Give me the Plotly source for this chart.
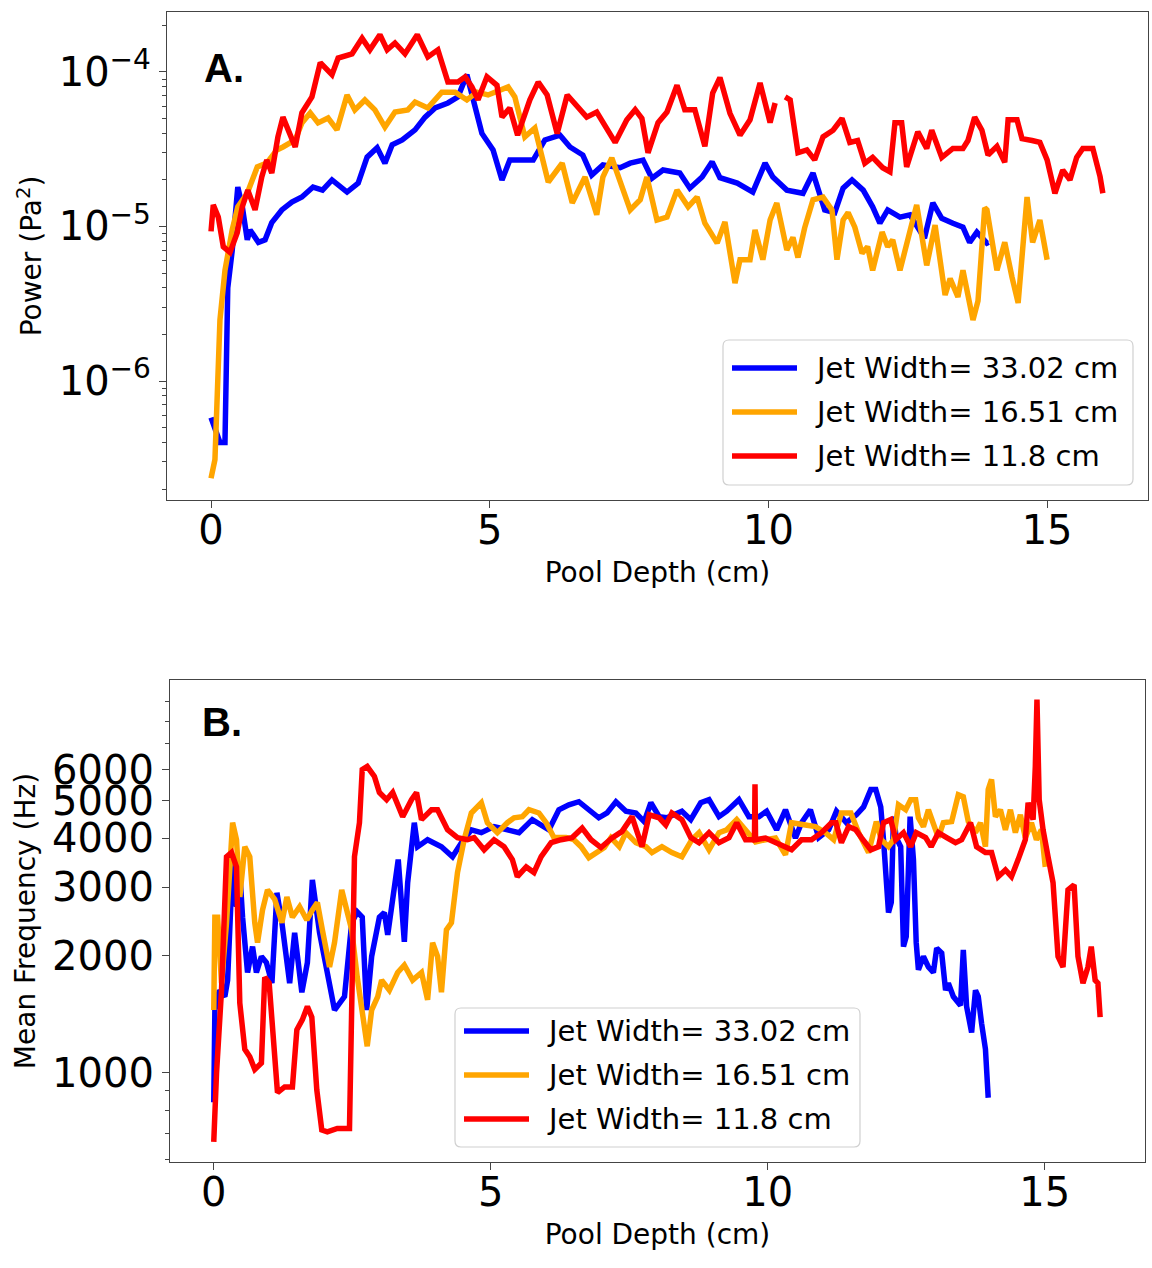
import plotly.graph_objects as go

# ---------------- Panel A: power vs pool depth (power in units of 1e-6 Pa^2) ----------------
POWER_UNIT = 1e-6

a_blue_depth = [0.0, 0.16, 0.25, 0.30, 0.38, 0.48, 0.56, 0.65, 0.70, 0.85, 0.97, 1.09, 1.27, 1.45, 1.63,
                1.83, 2.00, 2.17, 2.44, 2.64, 2.80, 2.98, 3.12, 3.25, 3.43, 3.66, 3.84, 4.02, 4.25, 4.43,
                4.59, 4.70, 4.86, 5.06, 5.22, 5.36, 5.50, 5.78, 5.99, 6.26, 6.44, 6.67, 6.83, 7.03, 7.34,
                7.52, 7.75, 7.91, 8.11, 8.41, 8.59, 8.81, 8.99, 9.13, 9.44, 9.72, 9.94, 10.08, 10.33,
                10.62, 10.80, 11.01, 11.19, 11.34, 11.50, 11.70, 11.87, 12.00, 12.14, 12.36, 12.54,
                12.72, 12.80, 12.95, 13.11, 13.31, 13.49, 13.61, 13.74, 13.92, 13.95]
a_blue_power = [0.58, 0.40, 0.40, 4.0, 7.0, 18.0, 13.5, 8.2, 9.5, 7.9, 8.2, 10.6, 12.8, 14.4, 15.5,
                18.0, 17.2, 20.0, 16.7, 19.1, 28.1, 32.3, 25.7, 33.8, 36.3, 42.2, 51.0, 58.5, 63, 69,
                96, 69, 40, 31.3, 20, 26.9, 27, 26.9, 36.3, 39, 32.7, 29, 21.5, 25, 24,
                25.7, 26.9, 20.5, 23.2, 22.2, 17.7, 20.9, 26.2, 20.7, 19.1, 16.7, 25.7, 20.9, 17.2,
                16.4, 22.2, 12.8, 12.3, 17.7, 20, 17.2, 13.4, 10.5, 12.8, 11.5, 11.9,
                9.1, 8.4, 14.2, 11.3, 10.5, 9.9, 7.9, 9.2, 7.8, 7.9]

a_orange_depth = [0.0, 0.07, 0.16, 0.25, 0.38, 0.48, 0.65, 0.83, 1.0, 1.18, 1.29, 1.51, 1.63, 1.78, 1.92,
                  2.10, 2.26, 2.44, 2.58, 2.76, 2.94, 3.12, 3.30, 3.53, 3.66, 3.89, 4.14, 4.38, 4.59, 4.77,
                  4.97, 5.33, 5.45, 5.63, 5.81, 5.99, 6.05, 6.21, 6.30, 6.48, 6.62, 6.71, 6.92, 7.03, 7.19,
                  7.34, 7.52, 7.70, 7.82, 8.00, 8.18, 8.36, 8.56, 8.72, 8.86, 9.08, 9.22, 9.40, 9.49, 9.67,
                  9.76, 9.90, 10.03, 10.15, 10.33, 10.44, 10.53, 10.65, 10.80, 10.98, 11.14, 11.23, 11.34,
                  11.43, 11.55, 11.68, 11.78, 11.87, 12.04, 12.14, 12.23, 12.36, 12.54, 12.66, 12.84,
                  12.99, 13.17, 13.26, 13.40, 13.49, 13.67, 13.76, 13.88, 13.92, 14.10, 14.24, 14.37,
                  14.48, 14.64, 14.69, 14.74, 14.87, 15.00]
a_orange_power = [0.235, 0.31, 2.48, 5.2, 9.5, 13.4, 16.4, 24.3, 25.7, 31.3, 32.7, 36.3, 46.8, 54.4, 46.8,
                  50.3, 42.2, 71, 56.8, 65.9, 56.8, 44, 55, 56.8, 63.8, 58.5, 74, 74, 65.9, 74,
                  71, 80, 69, 38, 43.4, 24.3, 19.4, 23.2, 25.7, 14.2, 18, 20.9, 11.9, 20.9, 27.8,
                  20, 12.8, 14.9, 20.9, 11, 11.5, 17.2, 13.4, 15.5, 10.5, 7.8, 10.7, 4.3, 6.1, 6.1,
                  9.5, 6.1, 11, 14.2, 7.05, 8.5, 6.3, 9.8, 14.9, 15.5, 12.8, 6.1, 11,
                  12.3, 9.9, 6.7, 7.4, 5.2, 9.2, 7.4, 8.2, 5.2, 9.1, 13.8, 5.6,
                  10.2, 3.6, 4.6, 3.5, 5.2, 2.48, 3.3, 13.2, 12.8, 5.2, 7.9, 4.7,
                  3.2, 15.5, 11.5, 7.9, 11, 6.1]

a_red_depth = [0.0, 0.04, 0.13, 0.22, 0.34, 0.47, 0.56, 0.66, 0.79, 0.91, 1.0, 1.09, 1.2, 1.29, 1.51,
               1.63, 1.81, 1.96, 2.17, 2.28, 2.53, 2.71, 2.85, 3.03, 3.16, 3.3, 3.48, 3.7, 3.89, 4.07,
               4.25, 4.43, 4.56, 4.68, 4.79, 4.95, 5.13, 5.22, 5.36, 5.5, 5.72, 5.87, 6.03, 6.21, 6.39,
               6.57, 6.74, 6.92, 7.1, 7.25, 7.46, 7.61, 7.73, 7.84, 8.02, 8.18, 8.36, 8.5, 8.68, 8.86,
               9.0, 9.13, 9.31, 9.49, 9.67, 9.85, 10.03, 10.12, 10.2, 10.3, 10.39, 10.53, 10.69, 10.83,
               10.98, 11.16, 11.32, 11.46, 11.6, 11.73, 11.87, 12.05, 12.18, 12.27, 12.39, 12.48, 12.68,
               12.84, 12.93, 13.11, 13.31, 13.49, 13.58, 13.7, 13.83, 13.94, 14.1, 14.24, 14.3, 14.46,
               14.55, 14.73, 14.87, 15.0, 15.14, 15.28, 15.41, 15.53, 15.64, 15.82, 15.95, 16.0]
a_red_power = [9.3, 13.8, 11.5, 7.4, 6.8, 9.1, 13.4, 17.2, 12.8, 20.9, 26.9, 22.2, 38, 51, 32.7,
               54.4, 69, 115, 96, 123, 131, 165, 139, 174, 139, 154, 131, 174, 125, 139,
               86, 86, 93, 80, 66, 93, 82, 51, 58.5, 39, 66, 86, 71, 40, 71,
               59, 51, 55, 42.2, 35, 49, 57, 50, 30, 47, 55, 82, 57, 57, 33,
               73, 92, 54, 39, 49, 85, 47, 63, None, 69, 66, 30, 31.3, 27,
               38, 42, 50, 35, 36, 25.7, 28, 24, 22.6, 47, 47, 24.3, 41,
               32, 42, 28, 32, 32, 36, 51, 42, 29, 33, 26, 49, 49,
               37, 36, 35, 27, 16.4, 23.2, 20, 28, 32, 32, 21, 16.4]

# ---------------- Panel B: mean frequency (Hz) vs pool depth ----------------
b_blue_depth = [0.0, 0.02, 0.1, 0.2, 0.25, 0.34, 0.41, 0.47, 0.52, 0.61, 0.7, 0.77, 0.86, 0.95, 1.05,
                1.14, 1.23, 1.32, 1.37, 1.46, 1.59, 1.69, 1.78, 1.91, 2.04, 2.18, 2.36, 2.49, 2.59, 2.68,
                2.76, 2.85, 2.99, 3.08, 3.14, 3.26, 3.33, 3.44, 3.5, 3.62, 3.68, 3.86, 4.11, 4.31, 4.47,
                4.65, 4.83, 5.06, 5.37, 5.51, 5.75, 6.05, 6.23, 6.41, 6.59, 6.77, 6.95, 7.1, 7.26, 7.44,
                7.62, 7.77, 7.89, 8.04, 8.18, 8.45, 8.61, 8.79, 8.94, 9.12, 9.26, 9.48, 9.66, 9.84, 9.98,
                10.16, 10.32, 10.5, 10.61, 10.77, 10.92, 11.1, 11.24, 11.42, 11.6, 11.73, 11.86, 11.95,
                12.04, 12.09, 12.13, 12.18, 12.23, 12.27, 12.32, 12.4, 12.45, 12.5, 12.57, 12.63, 12.68,
                12.72, 12.81, 12.9, 12.99, 13.05, 13.14, 13.21, 13.26, 13.35, 13.48, 13.53, 13.59, 13.68,
                13.75, 13.8, 13.86, 13.93, 13.98]
b_blue_freq = [840, 1450, 1630, 1570, 1730, 3460, 2670, 3270, 2510, 1810, 2110, 1810, 1990, 1920, 1700,
               2900, 2430, 1920, 1700, 2290, 1610, 1920, 3130, 2290, 1870, 1450, 1570, 2430, 2590, 2510,
               1450, 1990, 2510, 2580, 2260, 2950, 3530, 2170, 3080, 4390, 3810, 3970, 3810, 3590, 3900,
               4210, 4140, 4290, 4210, 4140, 4470, 4210, 4740, 4880, 4970, 4740, 4520, 4650, 4970, 4700,
               4650, 4420, 4940, 4550, 4520, 4700, 4470, 4940, 5030, 4550, 4700, 5030, 4550, 4550, 4700,
               4210, 4740, 4010, 4390, 4740, 4020, 4210, 4700, 4390, 4600, 4820, 5340, 5340,
               4820, 3970, 3080, 2580, 2740, 4550, 4020, 3810, 2110, 2240, 4550, 3530, 2160,
               1840, 1990, 1870, 1810, 2090, 2030, 1630, 1700, 1570, 1490, 2070, 1480, 1270,
               1630, 1570, 1340, 1150, 863]

b_orange_depth = [0.0, 0.02, 0.07, 0.14, 0.23, 0.29, 0.34, 0.41, 0.47, 0.56, 0.65, 0.74, 0.79, 0.88, 0.97,
                  1.1, 1.23, 1.32, 1.42, 1.55, 1.68, 1.78, 1.87, 1.96, 2.09, 2.18, 2.31, 2.4, 2.49, 2.59,
                  2.68, 2.77, 2.85, 2.96, 3.03, 3.17, 3.32, 3.44, 3.59, 3.75, 3.86, 3.95, 4.04, 4.11, 4.2,
                  4.29, 4.4, 4.52, 4.65, 4.83, 4.94, 5.12, 5.3, 5.42, 5.57, 5.69, 5.87, 6.0, 6.14, 6.36,
                  6.5, 6.63, 6.77, 6.92, 7.05, 7.17, 7.32, 7.44, 7.62, 7.8, 7.91, 8.09, 8.27, 8.45, 8.63,
                  8.76, 8.94, 9.12, 9.26, 9.44, 9.6, 9.78, 9.96, 10.14, 10.32, 10.43, 10.68, 10.86, 11.04,
                  11.19, 11.33, 11.5, 11.64, 11.82, 11.96, 12.05, 12.18, 12.27, 12.36, 12.49, 12.58, 12.67,
                  12.72, 12.81, 12.9, 12.99, 13.08, 13.17, 13.32, 13.44, 13.53, 13.62, 13.75, 13.84, 13.93,
                  13.98, 14.04, 14.11, 14.2, 14.29, 14.38, 14.47, 14.56, 14.65, 14.76, 14.85, 14.94, 15.01]
b_orange_freq = [1450, 2510, 2510, 1700, 2430, 3590, 4390, 3970, 2830, 3810, 3590, 2430, 2160, 2620, 2950,
                 2790, 2430, 2830, 2510, 2670, 2470, 2620, 2740, 2330, 1870, 2160, 2950, 2620, 2330, 1760,
                 1390, 1170, 1450, 1570, 1730, 1630, 1810, 1890, 1730, 1810, 1540, 2160, 1990, 1610, 2330,
                 2430, 3270, 3970, 4650, 4940, 4390, 4140, 4390, 4520, 4550, 4740, 4650, 4390, 4020, 4020,
                 3970, 3810, 3570, 3680, 3790, 4020, 3810, 4140, 3900, 3810, 3680, 3810, 3680, 3590, 3970,
                 4140, 3740, 4140, 4210, 4470, 4210, 3920, 3970, 4010, 3630, 4390, 4330, 4290, 4140,
                 3970, 4650, 4650, 4140, 3680, 4420, 3970, 3810, 3970, 4880, 4740, 5030, 5030,
                 4520, 4290, 4740, 4390, 4020, 4390, 4420, 5180, 5120, 4420, 4140, 4390, 3810,
                 5340, 5670, 4550, 4740, 4210, 4740, 4140, 4600, 4020, 4390, 3970, 4210, 3380]

b_red_depth = [0.0, 0.05, 0.14, 0.23, 0.32, 0.41, 0.47, 0.56, 0.65, 0.74, 0.86, 0.92, 1.0, 1.1, 1.15,
               1.28, 1.42, 1.5, 1.6, 1.69, 1.77, 1.86, 1.95, 2.05, 2.23, 2.45, 2.49, 2.54, 2.63, 2.68,
               2.77, 2.9, 2.99, 3.12, 3.23, 3.41, 3.57, 3.66, 3.75, 3.93, 4.04, 4.22, 4.4, 4.58, 4.7,
               4.88, 5.06, 5.24, 5.39, 5.48, 5.64, 5.78, 5.91, 6.09, 6.27, 6.47, 6.65, 6.81, 6.99, 7.19,
               7.37, 7.55, 7.73, 7.86, 8.04, 8.16, 8.27, 8.45, 8.61, 8.76, 8.94, 9.12, 9.3, 9.44, 9.6,
               9.76, 9.77, 9.78, 9.96, 10.14, 10.32, 10.43, 10.61, 10.79, 10.97, 11.15, 11.23, 11.33,
               11.46, 11.59, 11.69, 11.86, 12.0, 12.09, 12.22, 12.31, 12.45, 12.58, 12.68, 12.85, 12.95,
               13.08, 13.23, 13.39, 13.5, 13.66, 13.77, 13.93, 14.04, 14.16, 14.29, 14.4, 14.52, 14.65,
               14.7, 14.79, 14.83, 14.86, 14.9, 14.97, 15.06, 15.15, 15.24, 15.33, 15.42, 15.53, 15.6,
               15.69, 15.78, 15.84, 15.91, 15.96, 16.0]
b_red_freq = [665, 1000, 1630, 3590, 3680, 3380, 1510, 1150, 1100, 1020, 1060, 1760, 1700, 1060, 890,
              920, 920, 1290, 1370, 1480, 1390, 904, 713, 705, 720, 720, 1480, 3590, 4390, 6010,
              6120, 5770, 5250, 5030, 5250, 4550, 5030, 5250, 4470, 4740, 4740, 4210, 4020, 3970, 4020,
              3740, 3970, 3810, 3530, 3190, 3380, 3270, 3590, 3900, 3970, 4020, 4250, 3970, 3790, 4010,
              4170, 4550, 3810, 4600, 4520, 4330, 4650, 4470, 4020, 3900, 4140, 3900, 4020, 4390, 3970,
              3970, 5510, 3970, 4010, 3900, 3810, 3740, 3970, 3970, 4140, 4390, 4390, 3900,
              4290, 4210, 4020, 3740, 3810, 4390, 4470, 3970, 4140, 3810, 4140, 4020, 3810,
              4140, 4020, 3900, 3970, 4390, 3810, 3680, 3680, 3190, 3320, 3190, 3530, 3970,
              4940, 4470, 6120, 9100, 5030, 4210, 3590, 3080, 1990, 1870, 2950, 3040, 1990,
              1700, 1870, 2110, 1730, 1700, 1390]

series_names = ["Jet Width= 33.02 cm", "Jet Width= 16.51 cm", "Jet Width= 11.8 cm"]
series_colors = ["#0000ff", "#ffa500", "#ff0000"]

FONT = "DejaVu Sans"
W, H = 1152, 1268
LINE_W = 5.5

fig = go.Figure()

panel_a = [(a_blue_depth, a_blue_power), (a_orange_depth, a_orange_power), (a_red_depth, a_red_power)]
for (xs, ys), name, col in zip(panel_a, series_names, series_colors):
    fig.add_trace(go.Scatter(
        x=xs, y=[None if v is None else v * POWER_UNIT for v in ys],
        mode="lines", name=name, line=dict(color=col, width=LINE_W),
        xaxis="x", yaxis="y", showlegend=False, connectgaps=False))

panel_b = [(b_blue_depth, b_blue_freq), (b_orange_depth, b_orange_freq), (b_red_depth, b_red_freq)]
for (xs, ys), name, col in zip(panel_b, series_names, series_colors):
    fig.add_trace(go.Scatter(
        x=xs, y=ys, mode="lines", name=name, line=dict(color=col, width=LINE_W),
        xaxis="x2", yaxis="y2", showlegend=False))

axis_line = dict(showline=True, linecolor="#444444", linewidth=1.2, mirror=True,
                 showgrid=False, zeroline=False, ticks="outside", tickcolor="#444444",
                 tickwidth=1.2, ticklen=7, tickfont=dict(family=FONT, size=40, color="black"))

a_minor = [m * 10.0 ** e for e in (-7, -6, -5, -4) for m in range(2, 10)]
b_minor = [600, 700, 800, 900, 7000, 8000, 9000]


# ---- legend boxes drawn in pixel layout (converted to paper fractions) ----
def px_x(v):
    return v / W


def px_y(v):
    return 1 - v / H


def rounded_box(x0, y0, x1, y1, r=6):
    X0, X1 = px_x(x0), px_x(x1)
    Y0, Y1 = px_y(y0), px_y(y1)
    rx, ry = r / W, r / H
    return (f"M {X0 + rx},{Y0} L {X1 - rx},{Y0} Q {X1},{Y0} {X1},{Y0 - ry} "
            f"L {X1},{Y1 + ry} Q {X1},{Y1} {X1 - rx},{Y1} L {X0 + rx},{Y1} "
            f"Q {X0},{Y1} {X0},{Y1 + ry} L {X0},{Y0 - ry} Q {X0},{Y0} {X0 + rx},{Y0} Z")


legend_boxes = [
    # (box left, top, right, bottom, first row y, row step)
    (723, 340, 1133, 485, 368, 44),
    (455, 1008, 860, 1147, 1031, 44),
]

shapes = []
annotations = []
for (bx0, by0, bx1, by1, ry0, step) in legend_boxes:
    shapes.append(dict(type="path", path=rounded_box(bx0, by0, bx1, by1), xref="paper", yref="paper",
                       line=dict(color="#d0d0d0", width=1.2), fillcolor="rgba(255,255,255,0.85)",
                       layer="above"))
    for i, (name, col) in enumerate(zip(series_names, series_colors)):
        yy = ry0 + i * step
        shapes.append(dict(type="line", xref="paper", yref="paper",
                           x0=px_x(bx0 + 9), x1=px_x(bx0 + 74), y0=px_y(yy), y1=px_y(yy),
                           line=dict(color=col, width=LINE_W), layer="above"))
        annotations.append(dict(text=name, x=px_x(bx0 + 90), y=px_y(yy), xref="paper", yref="paper",
                                xanchor="left", yanchor="middle", showarrow=False,
                                font=dict(family=FONT, size=29, color="black")))

annotations += [
    dict(text="<b>A.</b>", x=px_x(202), y=px_y(68), xref="paper", yref="paper",
         xanchor="left", yanchor="middle", showarrow=False,
         font=dict(family="Liberation Sans", size=40, color="black")),
    dict(text="<b>B.</b>", x=px_x(200), y=px_y(722), xref="paper", yref="paper",
         xanchor="left", yanchor="middle", showarrow=False,
         font=dict(family="Liberation Sans", size=40, color="black")),
]

fig.update_layout(
    width=W, height=H,
    margin=dict(l=0, r=0, t=0, b=0),
    paper_bgcolor="white", plot_bgcolor="white",
    font=dict(family=FONT, color="black"),
    showlegend=False,
    xaxis=dict(domain=[167 / W, 1148 / W], anchor="y", range=[-0.79, 16.81],
               tickvals=[0, 5, 10, 15], ticklabelstandoff=-12,
               title=dict(text="Pool Depth (cm)", font=dict(size=28), standoff=10),
               **axis_line),
    yaxis=dict(domain=[1 - 500 / H, 1 - 12 / H], anchor="x", type="log", range=[-6.77, -3.612],
               tickvals=[1e-6, 1e-5, 1e-4],
               ticktext=["10<sup>−6</sup>", "10<sup>−5</sup>", "10<sup>−4</sup>"],
               minor=dict(tickvals=a_minor, ticks="outside", ticklen=4, tickcolor="#444444"),
               title=dict(text="Power (Pa<sup>2</sup>)", font=dict(size=28), standoff=8),
               **axis_line),
    xaxis2=dict(domain=[170 / W, 1145 / W], anchor="y2", range=[-0.79, 16.81],
                tickvals=[0, 5, 10, 15], ticklabelstandoff=-12,
                title=dict(text="Pool Depth (cm)", font=dict(size=28), standoff=10),
                **axis_line),
    yaxis2=dict(domain=[1 - 1162 / H, 1 - 680 / H], anchor="x2", type="log", range=[2.771, 4.009],
                tickvals=[1000, 2000, 3000, 4000, 5000, 6000],
                ticktext=["1000", "2000", "3000", "4000", "5000", "6000"],
                minor=dict(tickvals=b_minor, ticks="outside", ticklen=4, tickcolor="#444444"),
                title=dict(text="Mean Frequency (Hz)", font=dict(size=28), standoff=8),
                **axis_line),
    shapes=shapes,
    annotations=annotations,
)

fig.write_html("out.html")
